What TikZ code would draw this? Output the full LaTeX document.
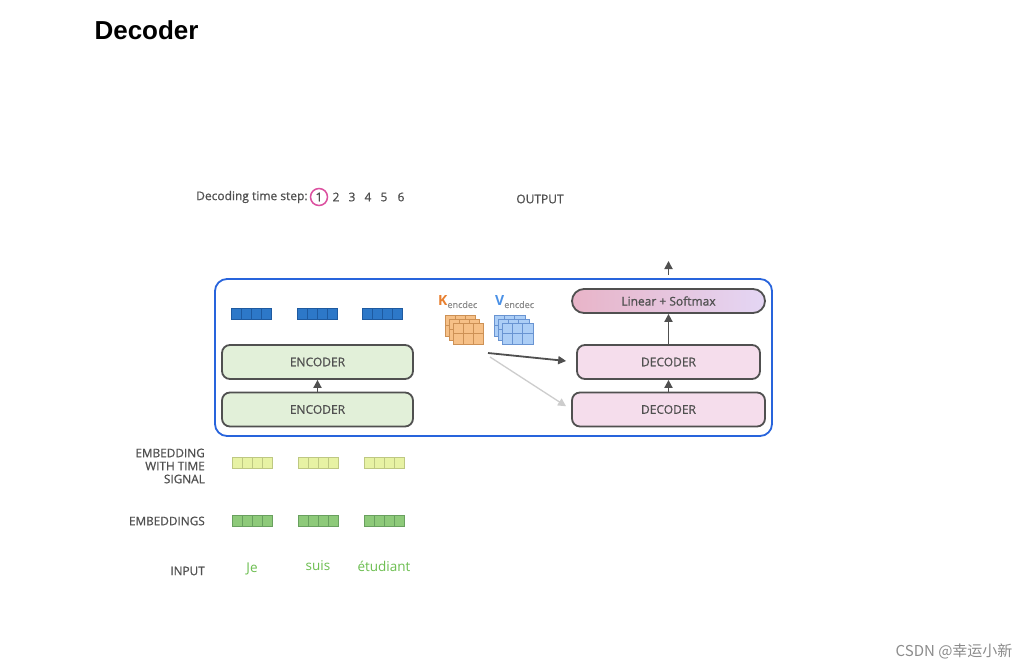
\documentclass[tikz,border=0pt]{standalone}
\usepackage{fontspec}
\setmainfont{Open Sans}
\newfontfamily\titlefont{Liberation Sans}
\newfontfamily\semi[FakeBold=0.8]{Open Sans}
\newfontfamily\cjk{Noto Sans CJK SC}
\usetikzlibrary{arrows.meta}
\definecolor{txtgrey}{RGB}{80,80,80}
\definecolor{boxline}{RGB}{80,80,80}
\definecolor{frameblue}{RGB}{40,100,220}
\definecolor{encgreen}{RGB}{226,240,217}
\definecolor{decpink}{RGB}{245,221,236}
\definecolor{linpink}{RGB}{232,180,200}
\definecolor{linlav}{RGB}{228,214,244}
\definecolor{vecblue}{RGB}{45,120,200}
\definecolor{vecblueline}{RGB}{30,90,160}
\definecolor{vecyellow}{RGB}{231,242,164}
\definecolor{vecyellowline}{RGB}{190,200,130}
\definecolor{vecgreen}{RGB}{142,202,122}
\definecolor{vecgreenline}{RGB}{105,160,95}
\definecolor{kfill}{RGB}{246,192,135}
\definecolor{kline}{RGB}{205,145,85}
\definecolor{kletter}{RGB}{232,128,48}
\definecolor{vfill}{RGB}{172,206,246}
\definecolor{vline}{RGB}{105,148,210}
\definecolor{vletter}{RGB}{75,145,230}
\definecolor{wordgreen}{RGB}{108,190,80}
\definecolor{stepink}{RGB}{220,80,160}
\definecolor{lightarr}{RGB}{205,205,205}
\definecolor{marktext}{RGB}{140,140,140}
\tikzset{
  box/.style={draw=boxline, line width=1.8pt, rounded corners=8pt, minimum height=34pt,
    text=txtgrey, font=\semi\fontsize{12}{14}\selectfont},
  arr/.style={-{Triangle[length=8pt,width=8pt]}, line width=1.8pt, draw=boxline},
  lbl/.style={anchor=east, align=right, text=txtgrey, font=\semi\fontsize{11.8}{13}\selectfont, inner sep=0pt},
  word/.style={text=wordgreen, font=\fontsize{13.5}{15}\selectfont},
  small/.style={text=txtgrey, font=\semi\fontsize{12}{14}\selectfont, inner sep=0pt},
}
\begin{document}
\begin{tikzpicture}[x=1pt,y=-1pt]
	\fill[white] (0,0) rectangle (1028,669);
	\node[anchor=west, font=\titlefont\bfseries\fontsize{26}{30}\selectfont] (title) at (91,30) {Decoder};
	\node[small, anchor=west] (step) at (196,197) {Decoding time step:};
	\foreach \n/\x in {1/319, 2/336, 3/352, 4/368, 5/384, 6/401}
		\node[small] (t\n) at (\x,197) {\n};
	\draw[stepink, line width=1.5pt] (t1) circle (8.5);
	\node[small] (output) at (540,199) {OUTPUT};
	\draw[frameblue, line width=1.8pt, rounded corners=12pt] (215,279) rectangle (772,436);
	\foreach \x in {231, 297, 362}
		\foreach \i in {0, ..., 3}
			\filldraw[fill=vecblue, draw=vecblueline] (\x+\i*10, 308) rectangle + (10, 11);
	\node[box, fill=encgreen, minimum width=191pt] (enc2) at (317.5,362) {ENCODER};
	\node[box, fill=encgreen, minimum width=191pt] (enc1) at (317.5,409.5) {ENCODER};
	\draw[arr] (enc1) -- (enc2);
	\node[anchor=west, inner sep=0pt] (klbl) at (438,302) {\textcolor{kletter}{\fontsize{14}{14}\selectfont\bfseries K}\raisebox{-2pt}{\textcolor{marktext}{\semi\fontsize{9}{9}\selectfont encdec}}};
	\node[anchor=west, inner sep=0pt] (vlbl) at (495,302) {\textcolor{vletter}{\fontsize{14}{14}\selectfont\bfseries V}\raisebox{-2pt}{\textcolor{marktext}{\semi\fontsize{9}{9}\selectfont encdec}}};
	\foreach \d in {8, 4, 0}
		\foreach \i in {0, 1, 2}
			\foreach \j in {0, 1}
			{
				\filldraw[fill=kfill, draw=kline] (453-\d+\i*10, 323-\d+\j*10.5) rectangle + (10, 10.5);
				\filldraw[fill=vfill, draw=vline] (502-\d+\i*10.3, 323-\d+\j*10.5) rectangle + (10.3, 10.5);
			}
	\node[box, fill=decpink, minimum width=183pt] (dec2) at (668.5,362) {DECODER};
	\node[box, fill=decpink, minimum width=193pt] (dec1) at (668.5,409.5) {DECODER};
	\node[box, rounded corners=12pt, minimum width=193pt, minimum height=24pt,
		left color=linpink, right color=linlav] (lin) at (668.5,301) {Linear + Softmax};
	\coordinate (kv) at (488,353);
	\coordinate (kvlow) at (490,357);
	\coordinate (outtip) at (669,261);
	\draw[arr, shorten >=10pt] (kv) -- (dec2.west);
	\draw[arr, draw=lightarr, line width=1.3pt, shorten >=6pt] (kvlow) -- (dec1.west);
	\draw[arr] (dec1) -- (dec2);
	\draw[arr] (dec2) -- (lin);
	\draw[arr, shorten <=13pt] (lin.north) -- (lin.north |- outtip);
	\node[lbl] (embt) at (205,466) {EMBEDDING\\WITH TIME\\SIGNAL};
	\node[lbl] (emb) at (205,521) {EMBEDDINGS};
	\node[lbl] (inp) at (205,571) {INPUT};
	\foreach \x in {232, 298, 364}
		\foreach \i in {0, ..., 3}
		{
			\filldraw[fill=vecyellow, draw=vecyellowline] (\x+\i*10, 457) rectangle + (10, 11);
			\filldraw[fill=vecgreen, draw=vecgreenline] (\x+\i*10, 515) rectangle + (10, 11.5);
		}
	\node[word] (je) at (252,569) {Je};
	\node[word] (suis) at (318,566) {suis};
	\node[word] (etud) at (384,566) {étudiant};
	\node[anchor=east, text=marktext, font=\cjk\fontsize{15}{18}\selectfont] (mark) at (1016,651) {CSDN @幸运小新};
\end{tikzpicture}
\end{document}
